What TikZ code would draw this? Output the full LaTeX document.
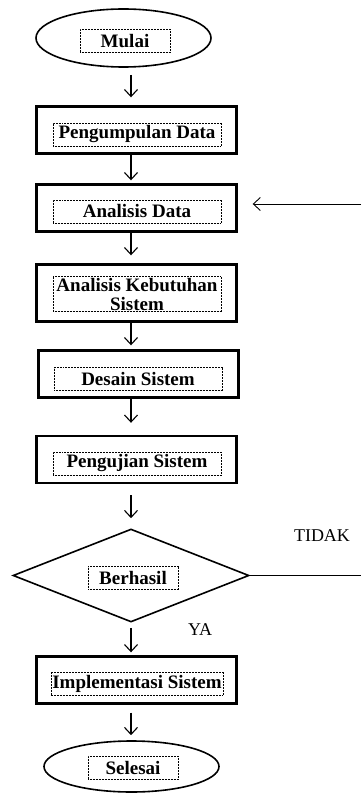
\documentclass[tikz,border=0pt]{standalone}
\usepackage{fontspec}
\setmainfont{Liberation Serif}
\usetikzlibrary{shapes.geometric,arrows.meta}

\begin{document}
\begin{tikzpicture}[x=1pt,y=-1pt,
	kotak/.style={draw,line width=2.4pt,minimum width=200pt,minimum height=47pt,inner sep=0pt},
	oval/.style={draw,ellipse,line width=1.6pt,minimum width=175pt,inner sep=0pt},
	belah/.style={draw,diamond,line width=1.6pt,minimum width=236pt,minimum height=93pt,inner sep=0pt},
	teks/.style={draw,densely dotted,line width=0.5pt,font=\fontsize{19}{19}\selectfont\bfseries,align=center,inner sep=1.5pt,minimum height=23pt,minimum width=168pt},
	pendek/.style={teks,minimum width=90pt},
	ket/.style={font=\fontsize{18}{18}\selectfont},
	panah/.style={line width=1.1pt,-{Straight Barb[length=7pt,width=13pt]}}]
		
		\useasboundingbox (0,0) rectangle (361,794);
		
		%Bentuk luar
		\node[oval,minimum height=58pt] (mulai) at (123.5,38) {};
		\node[kotak] (kumpul) at (136.5,130) {};
		\node[kotak] (analisis) at (136.5,208) {};
		\node[kotak,minimum height=57pt] (kebutuhan) at (136.5,293) {};
		\node[kotak] (desain) at (138.5,374) {};
		\node[kotak] (uji) at (136.5,459.5) {};
		\node[belah] (keputusan) at (131,575.5) {};
		\node[kotak] (implementasi) at (136.5,680) {};
		\node[oval,minimum height=51pt] (selesai) at (131.5,766.5) {};
		
		%Teks dalam bingkai titik-titik
		\node[pendek] (mulai-t) at (125,41) {Mulai};
		\node[teks] (kumpul-t) at (137,134.5) {Pengumpulan Data};
		\node[teks] (analisis-t) at (137,211.5) {Analisis Data};
		\node[teks] (kebutuhan-t) at (137,294) {Analisis Kebutuhan\\Sistem};
		\node[teks] (desain-t) at (138,379) {Desain Sistem};
		\node[teks] (uji-t) at (137,463.5) {Pengujian Sistem};
		\node[pendek] (keputusan-t) at (133,578) {Berhasil};
		\node[teks] (implementasi-t) at (137,683.5) {Implementasi Sistem};
		\node[pendek] (selesai-t) at (133,767.5) {Selesai};
		
		%Keterangan cabang
		\node[ket] (tidak) at (322,536) {TIDAK};
		\node[ket] (ya) at (200,630) {YA};
		
		%Panah alur utama
		\coordinate (jalur) at (131,0);
		\foreach \a/\b/\s/\t in {mulai/kumpul/7/8, kumpul/analisis/0/3, analisis/kebutuhan/0/8,
			kebutuhan/desain/0/4, desain/uji/0/12, uji/keputusan/11/10,
			keputusan/implementasi/5/3, implementasi/selesai/8/5}
		\draw[panah,shorten <=\s pt,shorten >=\t pt] (\a.south -| jalur) -- (\b.north -| jalur);
		
		%Umpan balik TIDAK
		\coordinate (tepi1) at (361,204);
		\coordinate (tepi2) at (361,575.5);
		\draw[line width=0.9pt] (keputusan.east) -- (tepi2);
		\draw[panah,line width=0.9pt,shorten >=15pt] (tepi1) -- (tepi1 -| analisis.east);
		
\end{tikzpicture}
\end{document}
